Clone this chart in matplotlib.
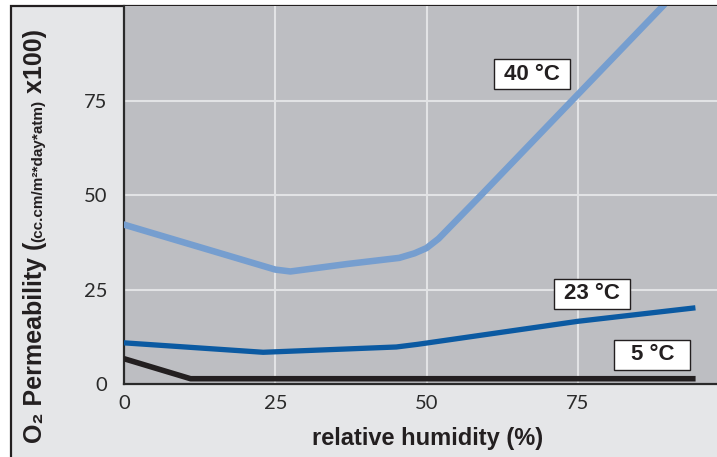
import matplotlib
matplotlib.use("Agg")
import matplotlib.pyplot as plt
from matplotlib.patches import Rectangle

plt.rcParams['font.family'] = ['Liberation Sans', 'DejaVu Sans']

# ---- data ----
rh_40 = [0, 25, 27.5, 37, 45.5, 48, 50, 52, 59, 74, 89]
perm_40 = [42.2, 30.3, 29.8, 31.8, 33.4, 34.6, 36.0, 38.5, 50, 75, 100]
rh_23 = [0, 23, 45, 48.5, 75, 94]
perm_23 = [10.9, 8.4, 9.8, 10.5, 16.6, 20.1]
rh_5 = [0, 11, 94]
perm_5 = [6.7, 1.4, 1.4]
labels = ["40 °C", "23 °C", "5 °C"]
label_pos = [(67.4, 82.0), (77.3, 23.9), (87.3, 7.7)]
xticks = [0, 25, 50, 75]
yticks = [0, 25, 50, 75]
xlabel = "relative humidity (%)"
ylabel_parts = ["O\u2082 Permeability (", "(cc.cm/m\u00b2*day*atm)", " x100)"]

W, H = 717, 457
fig = plt.figure(figsize=(W / 100, H / 100), dpi=100)
fig.patch.set_facecolor('white')

# outer frame
frame = Rectangle((11 / W, -0.05), 1.2, (H - 5.5) / H + 0.05, transform=fig.transFigure,
                  facecolor='#e5e6e8', edgecolor='#231f20', linewidth=1.6, zorder=-5)
fig.patches.append(frame)

ax = fig.add_axes([124 / W, (H - 384) / H, (W - 124) / W, (384 - 6) / H])
ax.set_zorder(2)
ax.set_facecolor('#bdbec2')
ax.set_xlim(0, 98.0)
ax.set_ylim(0, 100.1)

ax.grid(True, color='#e2e3e5', linewidth=1.5)
ax.set_axisbelow(True)
ax.set_xticks(xticks)
ax.set_yticks(yticks)
ax.tick_params(length=0, labelsize=14.5, labelcolor='#2a2a2a', pad=8)
ax.tick_params(axis='y', pad=12)
for lbl in ax.get_xticklabels() + ax.get_yticklabels():
    lbl.set_family(['Lato', 'Liberation Sans'])
    lbl.set_fontweight('normal')
for side in ['top', 'right']:
    ax.spines[side].set_visible(False)
for side in ['left', 'bottom']:
    ax.spines[side].set_color('#2a2a2a')
    ax.spines[side].set_linewidth(1.6)

ax.plot(rh_40, perm_40, color='#769ecf', linewidth=4.7, solid_joinstyle='round', zorder=3)
ax.plot(rh_23, perm_23, color='#0b5aa2', linewidth=3.8, solid_joinstyle='round', zorder=3)
ax.plot(rh_5, perm_5, color='#231f20', linewidth=4.0, solid_joinstyle='round', zorder=3)

bw, bh = 76 / 6.053, 30 / 3.775
for lab, (lx, ly) in zip(labels, label_pos):
    ax.add_patch(Rectangle((lx - bw / 2, ly - bh / 2), bw, bh, facecolor='white',
                           edgecolor='#231f20', linewidth=1.0, zorder=4))
    ax.text(lx, ly, lab, ha='center', va='center', fontsize=16, fontweight='bold',
            color='#231f20', zorder=5)

fig.text(428 / W, 1 - 438 / H, xlabel, ha='center', va='center', fontsize=17,
         fontweight='bold', color='#231f20')

# y label in pieces (mixed sizes)
renderer = fig.canvas.get_renderer()
y = 1 - 443 / H
sizes = [18, 11, 18]
for part, fs in zip(ylabel_parts, sizes):
    t = fig.text(42 / W, y, part, rotation=90, rotation_mode='anchor', ha='left',
                 va='baseline', fontsize=fs, fontweight='bold', color='#231f20')
    bb = t.get_window_extent(renderer=renderer)
    y = bb.y1 / (H)

fig.savefig('out.png', dpi=100)
